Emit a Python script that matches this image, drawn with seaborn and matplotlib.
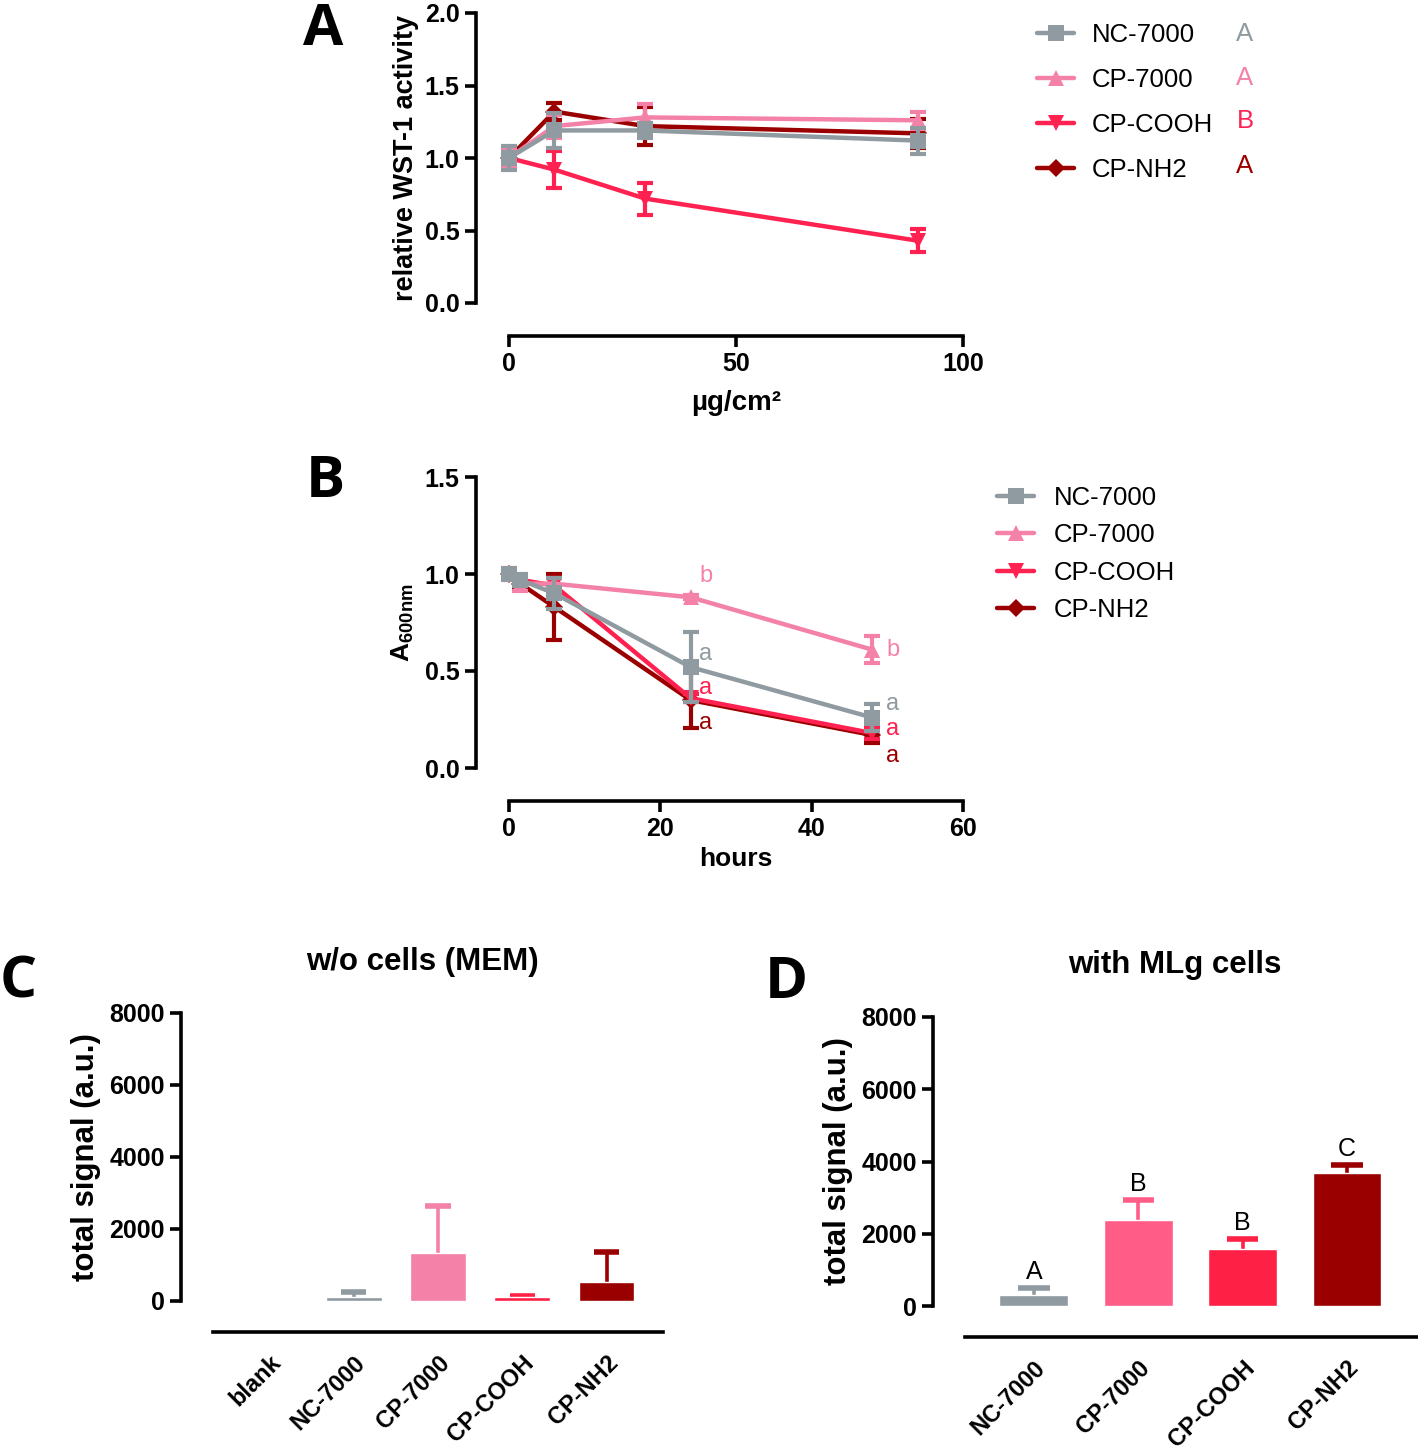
import matplotlib
matplotlib.use("Agg")
import matplotlib.pyplot as plt
import numpy as np
import pandas as pd
import seaborn as sns

# panel A: WST-1 vs concentration
conc = [0, 10, 30, 90]
wst_nc = [1.00, 1.19, 1.19, 1.12]
wst_nc_err = [0.08, 0.12, 0.05, 0.09]
wst_cp = [1.00, 1.22, 1.28, 1.26]
wst_cp_err = [0.06, 0.08, 0.09, 0.06]
wst_cooh = [1.00, 0.92, 0.72, 0.43]
wst_cooh_err = [0.04, 0.125, 0.11, 0.08]
wst_nh2 = [1.00, 1.32, 1.22, 1.17]
wst_nh2_err = [0.05, 0.06, 0.13, 0.10]
letters_a = ["A", "A", "B", "A"]

# panel B: A600 vs time
hours = [0, 1.5, 6, 24, 48]
a600_nc = [1.00, 0.97, 0.90, 0.52, 0.26]
a600_nc_err = [0.02, 0.03, 0.08, 0.18, 0.07]
a600_cp = [1.00, 0.95, 0.95, 0.88, 0.61]
a600_cp_err = [0.03, 0.04, 0.03, 0.01, 0.07]
a600_cooh = [1.00, 0.97, 0.94, 0.36, 0.18]
a600_cooh_err = [0.02, 0.02, 0.04, 0.02, 0.03]
a600_nh2 = [1.00, 0.95, 0.83, 0.35, 0.17]
a600_nh2_err = [0.02, 0.03, 0.17, 0.145, 0.04]
# significance letters at 24 h and 48 h (x, y, text, series index)
b_letters = [(26, 0.99, "b", 1), (26, 0.59, "a", 0), (26, 0.41, "a", 2), (26, 0.23, "a", 3),
             (50.7, 0.61, "b", 1), (50.7, 0.33, "a", 0), (50.7, 0.20, "a", 2), (50.7, 0.06, "a", 3)]

# panel C / D: total signal
cats_c = ["blank", "NC-7000", "CP-7000", "CP-COOH", "CP-NH2"]
signal_c = [0, 120, 1320, 120, 535]
signal_c_err = [0, 120, 1316, 30, 830]
cats_d = ["NC-7000", "CP-7000", "CP-COOH", "CP-NH2"]
signal_d = [300, 2370, 1570, 3670]
signal_d_err = [185, 560, 275, 220]
letters_d = ["A", "B", "B", "C"]

groups = ["NC-7000", "CP-7000", "CP-COOH", "CP-NH2"]
colors = ["#8F9BA0", "#F481A8", "#FF2150", "#9B0000"]
markers = ["s", "^", "v", "D"]
sizes = [11, 12, 12, 9]
bar_c_colors = ["#8F9BA0", "#8F9BA0", "#F481A8", "#FF2046", "#9B0000"]
bar_d_colors = ["#8F9BA0", "#FF5C88", "#FF2046", "#9B0000"]

sns.set_style("ticks")
plt.rcParams["font.family"] = ["Liberation Sans", "DejaVu Sans"]
plt.rcParams["font.weight"] = "bold"
plt.rcParams["axes.labelweight"] = "bold"
plt.rcParams["mathtext.fontset"] = "custom"
plt.rcParams["mathtext.bf"] = "Liberation Sans:bold"
plt.rcParams["mathtext.rm"] = "Liberation Sans:bold"
for k in ["text.color", "axes.labelcolor", "xtick.color", "ytick.color"]:
    plt.rcParams[k] = "black"

W, H = 1418, 1449
fig = plt.figure(figsize=(W / 100, H / 100), dpi=100)


def axes_px(left, top, right, bottom):
    return fig.add_axes([left / W, 1 - bottom / H, (right - left) / W, (bottom - top) / H])


def style_axes(ax, off_left=24, off_bottom=24):
    for s in ["top", "right"]:
        ax.spines[s].set_visible(False)
    ax.spines["left"].set_position(("outward", off_left))
    ax.spines["bottom"].set_position(("outward", off_bottom))
    for s in ["left", "bottom"]:
        ax.spines[s].set_linewidth(2.6)
        ax.spines[s].set_color("black")
    ax.tick_params(width=2.6, length=8, labelsize=18, colors="black")
    ax.set_facecolor("none")


def line_panel(ax, x, series, errs):
    df = pd.DataFrame({
        "x": np.tile(x, len(groups)),
        "y": np.concatenate(series),
        "group": np.repeat(groups, len(x)),
    })
    for i, g in enumerate(groups):
        sub = df[df.group == g]
        sns.lineplot(data=sub, x="x", y="y", color=colors[i], marker=markers[i],
                     markersize=sizes[i], markeredgewidth=0, linewidth=3.2,
                     ax=ax, legend=False, zorder=5 - i, clip_on=False)
        ax.errorbar(x, series[i], yerr=errs[i], fmt="none", ecolor=colors[i],
                    elinewidth=3, capsize=6, capthick=3, zorder=5 - i, clip_on=False)


# ---- A
axA = axes_px(509, 13, 963, 303)
line_panel(axA, conc, [wst_nc, wst_cp, wst_cooh, wst_nh2],
           [wst_nc_err, wst_cp_err, wst_cooh_err, wst_nh2_err])
axA.set_xlim(0, 100)
axA.set_ylim(0, 2.0)
axA.set_xticks([0, 50, 100])
axA.set_yticks([0, 0.5, 1.0, 1.5, 2.0])
axA.set_yticklabels(["0.0", "0.5", "1.0", "1.5", "2.0"])
axA.set_xlabel("µg/cm²", fontsize=20, labelpad=10)
axA.set_ylabel("relative WST-1 activity", fontsize=19.5, labelpad=4)
style_axes(axA)
hA = [plt.Line2D([], [], color=c, marker=m, markersize=s, mew=0, lw=3.2)
      for c, m, s in zip(colors, markers, sizes)]
axA.legend(hA, groups, loc="upper left", bbox_to_anchor=(1037 / W, 1 - 23 / H),
           bbox_transform=fig.transFigure, frameon=False, borderpad=0, borderaxespad=0,
           handlelength=1.45, handletextpad=0.7, labelspacing=0.82,
           prop={"size": 18.5, "weight": "normal"})
for i, (t, y) in enumerate(zip(letters_a, [34, 78, 121, 166])):
    fig.text(1245 / W, 1 - y / H, t, color=colors[i], fontsize=18.5,
             fontweight="normal", ha="center", va="center")

# ---- B
axB = axes_px(509, 477, 963, 768)
line_panel(axB, hours, [a600_nc, a600_cp, a600_cooh, a600_nh2],
           [a600_nc_err, a600_cp_err, a600_cooh_err, a600_nh2_err])
axB.set_xlim(0, 60)
axB.set_ylim(0, 1.5)
axB.set_xticks([0, 20, 40, 60])
axB.set_yticks([0, 0.5, 1.0, 1.5])
axB.set_yticklabels(["0.0", "0.5", "1.0", "1.5"])
axB.set_xlabel("hours", fontsize=19, labelpad=4)
axB.set_ylabel(r"A$_{\mathbf{600nm}}$", fontsize=19, labelpad=6)
style_axes(axB)
for x, y, t, i in b_letters:
    axB.text(x, y, t, color=colors[i], fontsize=17, fontweight="normal",
             ha="center", va="center")
axB.legend(hA, groups, loc="upper left", bbox_to_anchor=(997 / W, 1 - 486 / H),
           bbox_transform=fig.transFigure, frameon=False, borderpad=0, borderaxespad=0,
           handlelength=1.45, handletextpad=0.75, labelspacing=0.52,
           prop={"size": 18.5, "weight": "normal"})


def bar_panel(ax, cats, vals, errs, cols):
    sns.barplot(x=cats, y=vals, hue=cats, palette=cols, legend=False,
                width=0.66, saturation=1, ax=ax, zorder=2)
    # one-sided (upper) error bars
    for i, (v, e) in enumerate(zip(vals, errs)):
        if v == 0 and e == 0:
            continue
        ax.vlines(i, v, v + e, color=cols[i], lw=2.6, zorder=1)
        ax.hlines(v + e, i - 0.15, i + 0.15, color=cols[i], lw=4, zorder=1)
    ax.set_ylim(0, 8000)
    ax.set_yticks([0, 2000, 4000, 6000, 8000])
    style_axes(ax, 23, 22)
    ax.tick_params(axis="x", length=0, pad=14)
    for lab in ax.get_xticklabels():
        lab.set_rotation(45)
        lab.set_ha("right")
        lab.set_rotation_mode("anchor")
        lab.set_fontsize(17)
    ax.set_ylabel("total signal (a.u.)", fontsize=22.5, labelpad=6)


# ---- C
axC = axes_px(213, 1013, 663, 1301)
bar_panel(axC, cats_c, signal_c, signal_c_err, bar_c_colors)
axC.set_xlim(-0.67, 4.67)
fig.text(422 / W, 1 - 962 / H, "w/o cells (MEM)", fontsize=22.5, ha="center", va="center")

# ---- D
axD = axes_px(965, 1017, 1418, 1306)
bar_panel(axD, cats_d, signal_d, signal_d_err, bar_d_colors)
axD.set_xlim(-0.66, 3.68)
for i, t in enumerate(letters_d):
    axD.text(i, signal_d[i] + signal_d_err[i] + 120, t, fontsize=18,
             fontweight="normal", ha="center", va="bottom")
fig.text(1175 / W, 1 - 965 / H, "with MLg cells", fontsize=22.5, ha="center", va="center")

# panel letters (baseline positions)
for t, x, y in [("A", 323, 45), ("B", 325, 497), ("C", 18, 997), ("D", 786, 998)]:
    fig.text(x / W, 1 - y / H, t, fontsize=42, family=["Open Sans", "DejaVu Sans"],
             fontweight="bold", ha="center", va="baseline")

fig.savefig("out.png", dpi=100, facecolor="white")
